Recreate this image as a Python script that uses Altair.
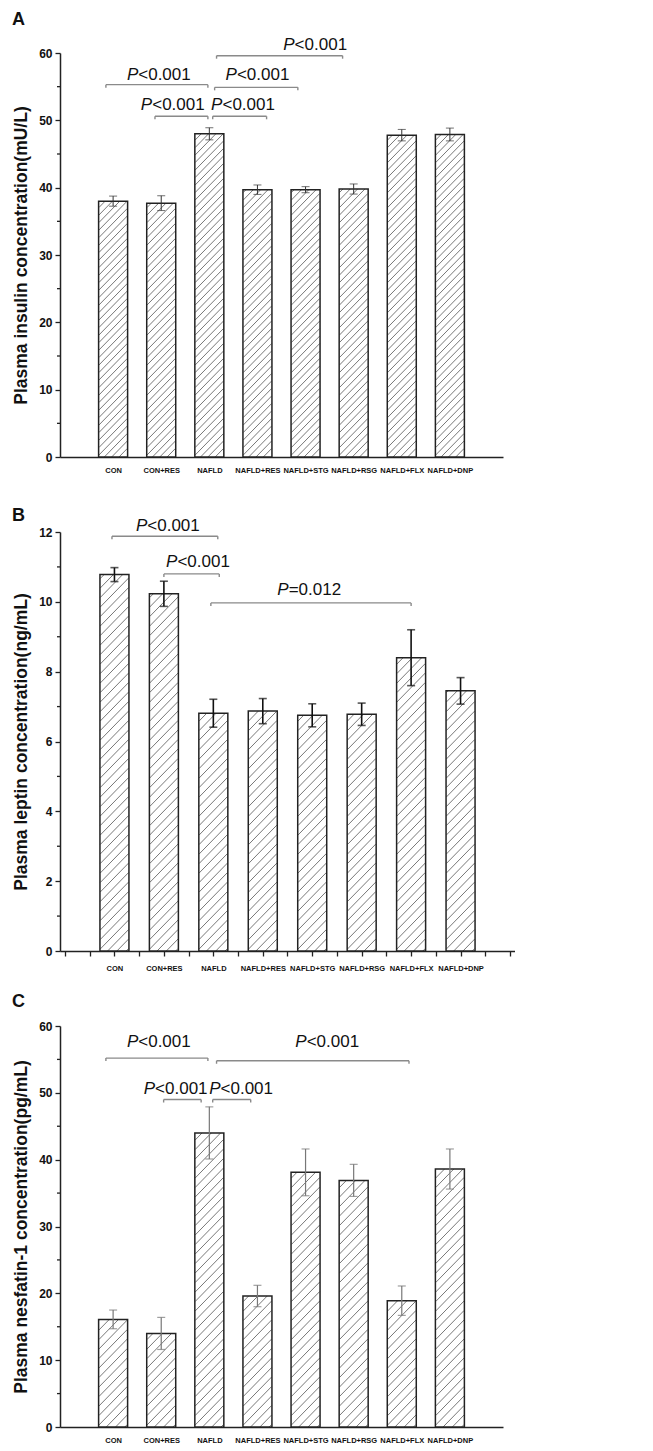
import altair as alt
import numpy as np
import pandas as pd

FONT = "Liberation Sans"

groups = ["CON", "CON+RES", "NAFLD", "NAFLD+RES", "NAFLD+STG", "NAFLD+RSG", "NAFLD+FLX", "NAFLD+DNP"]
positions = [1, 2, 3, 4, 5, 6, 7, 8]

# Panel A: plasma insulin (mU/L)
insulin_mean = [38.0, 37.7, 48.0, 39.7, 39.7, 39.8, 47.8, 47.9]
insulin_err = [0.75, 1.1, 0.9, 0.7, 0.45, 0.75, 0.85, 0.95]
insulin_br_x1 = [0.85, 1.87, 3.07, 3.11, 3.15]
insulin_br_x2 = [2.97, 2.97, 4.19, 4.84, 5.77]
insulin_br_y = [55.3, 50.6, 50.6, 54.9, 59.6]
insulin_lab_x = [1.95, 2.24, 3.70, 4.00, 5.20]
insulin_lab_y = [56.0, 51.6, 51.6, 56.0, 60.5]
insulin_lab = ["<0.001", "<0.001", "<0.001", "<0.001", "<0.001"]

# Panel B: plasma leptin (ng/mL)
leptin_mean = [10.78, 10.23, 6.81, 6.87, 6.75, 6.78, 8.40, 7.45]
leptin_err = [0.20, 0.36, 0.40, 0.36, 0.33, 0.32, 0.80, 0.38]
leptin_br_x1 = [0.95, 2.00, 2.95]
leptin_br_x2 = [3.09, 3.12, 7.00]
leptin_br_y = [11.88, 10.80, 9.97]
leptin_lab_x = [2.08, 2.69, 4.94]
leptin_lab_y = [12.04, 11.00, 10.21]
leptin_lab = ["<0.001", "<0.001", "=0.012"]

# Panel C: plasma nesfatin-1 (pg/mL)
nesfatin_mean = [16.1, 14.0, 44.0, 19.6, 38.1, 36.9, 18.9, 38.6]
nesfatin_err = [1.4, 2.4, 3.9, 1.6, 3.5, 2.4, 2.2, 3.0]
nesfatin_br_x1 = [0.85, 3.15, 2.05, 3.07]
nesfatin_br_x2 = [2.97, 7.15, 2.83, 3.86]
nesfatin_br_y = [55.2, 54.8, 49.0, 49.0]
nesfatin_lab_x = [1.95, 5.45, 2.30, 3.66]
nesfatin_lab_y = [56.8, 56.8, 49.9, 49.9]
nesfatin_lab = ["<0.001", "<0.001", "<0.001", "<0.001"]

BAR_PX = 29


def hatch_df(means, width, height, ymax, gap):
    kx = width / 9.0
    ky = height / ymax
    rows = []
    for p, v in zip(positions, means):
        hp = v * ky
        bw = BAR_PX
        left = p - bw / 2.0 / kx
        k0 = int(np.ceil(-bw / gap))
        k1 = int(np.floor(hp / gap))
        for k in range(k0, k1 + 1):
            b = k * gap + 2.0
            xa = max(0.0, -b)
            xb = min(bw, hp - b)
            if xb - xa < 0.8:
                continue
            rows.append({"x": left + xa / kx, "x2": left + xb / kx,
                         "y": (xa + b) / ky, "y2": (xb + b) / ky})
    return pd.DataFrame(rows)


def panel(means, errs, ymax, ystep, title, letter, letter_dy, br, labs, width, height,
          gap, err_color, err_width, x_ticks, txt_size):
    x_scale = alt.Scale(domain=[0, 9], nice=False, zero=False)
    y_scale = alt.Scale(domain=[0, ymax], nice=False, zero=True)
    yticks = [float(v) for v in np.arange(0, ymax + ystep / 2, ystep)]
    yminor = [float(v) for v in np.arange(ystep / 2, ymax, ystep)]
    names_js = "[" + ",".join(['""'] + ['"%s"' % g for g in groups] + ['""']) + "]"
    label_expr = ("datum.value == floor(datum.value) && datum.value >= 1 && datum.value <= 8 ? "
                  + names_js + "[datum.value] : ''")
    if x_ticks:
        xaxis = alt.Axis(values=[i * 0.5 for i in range(19)], labelExpr=label_expr, tickSize=5,
                         labelPadding=8, labelFontSize=7.5, labelFontWeight="bold", grid=False,
                         title=None, labelOverlap=False, labelFlush=False)
    else:
        xaxis = alt.Axis(values=positions, labelExpr=label_expr, ticks=False, tickSize=0,
                         labelPadding=9, labelFontSize=7.5, labelFontWeight="bold", grid=False,
                         title=None, labelOverlap=False, labelFlush=False)
    yaxis = alt.Axis(values=yticks, title=title, titleFontSize=17.5, titleFontWeight="bold",
                     titlePadding=8, labelFontSize=12, labelFontWeight="bold", labelPadding=3,
                     tickSize=5, grid=False, format="d")

    def X(f):
        return alt.X(f, scale=x_scale, axis=xaxis)

    def Y(f):
        return alt.Y(f, scale=y_scale, axis=yaxis)

    m = np.array(means)
    e = np.array(errs)
    bars_df = pd.DataFrame({"pos": positions, "group": groups, "mean": means,
                            "lo": m - e, "hi": m + e, "zero": 0.0})

    bars = alt.Chart(bars_df).mark_bar(size=BAR_PX, fill="white", orient="vertical").encode(
        x=X("pos:Q"), y=Y("mean:Q"), y2="zero:Q",
    )
    hdf = hatch_df(means, width, height, ymax, gap)
    hatch = alt.Chart(hdf).mark_rule(color="#555555", strokeWidth=0.8).encode(
        x=X("x:Q"), x2="x2:Q", y=Y("y:Q"), y2="y2:Q",
    )
    outline = alt.Chart(bars_df).mark_bar(size=BAR_PX, fillOpacity=0, stroke="#222222",
                                          strokeWidth=1.5, orient="vertical").encode(
        x=X("pos:Q"), y=Y("mean:Q"), y2="zero:Q",
    )
    err_rule = alt.Chart(bars_df).mark_rule(color=err_color, strokeWidth=err_width).encode(
        x=X("pos:Q"), y=Y("lo:Q"), y2="hi:Q",
    )
    err_cap = alt.Chart(bars_df).transform_fold(["lo", "hi"], as_=["k", "v"]).mark_tick(
        orient="horizontal", size=8, thickness=err_width, color=err_color).encode(
        x=X("pos:Q"), y=Y("v:Q"),
    )
    minor = alt.Chart(pd.DataFrame({"v": yminor})).mark_rule(color="#222222", strokeWidth=1.3).encode(
        x=alt.value(0), x2=alt.value(-3), y=Y("v:Q"),
    )

    x1, x2, by = br
    d = 3.0 * ymax / height
    br_df = pd.DataFrame({"x1": x1, "x2": x2, "y": by})
    br_df["yd"] = br_df["y"] - d
    br_h = alt.Chart(br_df).mark_rule(color="#8a8a8a", strokeWidth=1.4).encode(
        x=X("x1:Q"), x2="x2:Q", y=Y("y:Q"),
    )
    br_v = alt.Chart(br_df).transform_fold(["x1", "x2"], as_=["k", "xv"]).mark_rule(
        color="#8a8a8a", strokeWidth=1.4).encode(
        x=X("xv:Q"), y=Y("y:Q"), y2="yd:Q",
    )

    lx, ly, lt = labs
    lab_df = pd.DataFrame({"x": lx, "y": ly, "rest": lt, "p": ["P"] * len(lt)})
    w_p = 0.667 * txt_size
    w_tot = (0.667 + 3.086) * txt_size
    p_txt = alt.Chart(lab_df).mark_text(font=FONT, fontSize=txt_size, fontStyle="italic",
                                        align="left", baseline="alphabetic", dx=-w_tot / 2,
                                        color="#111111").encode(
        x=X("x:Q"), y=Y("y:Q"), text="p:N",
    )
    r_txt = alt.Chart(lab_df).mark_text(font=FONT, fontSize=txt_size, align="left",
                                        baseline="alphabetic", dx=-w_tot / 2 + w_p,
                                        color="#111111").encode(
        x=X("x:Q"), y=Y("y:Q"), text="rest:N",
    )
    letter_txt = alt.Chart(pd.DataFrame({"letter": [letter]})).mark_text(
        font=FONT, fontSize=18, fontWeight="bold", align="left", baseline="top",
        color="#111111").encode(
        x=alt.value(-48), y=alt.value(letter_dy), text="letter:N",
    )

    return alt.layer(bars, hatch, outline, err_rule, err_cap, minor, br_h, br_v,
                     p_txt, r_txt, letter_txt).properties(width=width, height=height)


pa = panel(insulin_mean, insulin_err, 60, 10, "Plasma insulin concentration(mU/L)", "A", -42,
           (insulin_br_x1, insulin_br_x2, insulin_br_y),
           (insulin_lab_x, insulin_lab_y, insulin_lab),
           443, 404, 7.5, "#333333", 1.0, False, 17)
pb = panel(leptin_mean, leptin_err, 12, 2, "Plasma leptin concentration(ng/mL)", "B", -25,
           (leptin_br_x1, leptin_br_x2, leptin_br_y),
           (leptin_lab_x, leptin_lab_y, leptin_lab),
           455, 419, 9.5, "#111111", 1.6, True, 17)
pc = panel(nesfatin_mean, nesfatin_err, 60, 10, "Plasma nesfatin-1 concentration(pg/mL)", "C", -33,
           (nesfatin_br_x1, nesfatin_br_x2, nesfatin_br_y),
           (nesfatin_lab_x, nesfatin_lab_y, nesfatin_lab),
           443, 401, 9.5, "#777777", 1.2, False, 17)

chart = alt.vconcat(pa, pb, pc, spacing=75, bounds="flush").properties(
    padding={"left": 4, "top": 3, "right": 0, "bottom": 0},
    background="white",
).configure_view(stroke=None).configure_axis(
    domainColor="#222222", domainWidth=1.5, tickColor="#222222", tickWidth=1.3,
    labelColor="#111111", titleColor="#111111", labelFont=FONT, titleFont=FONT,
)

chart.save("out.html", embed_options={"renderer": "svg", "actions": False})
